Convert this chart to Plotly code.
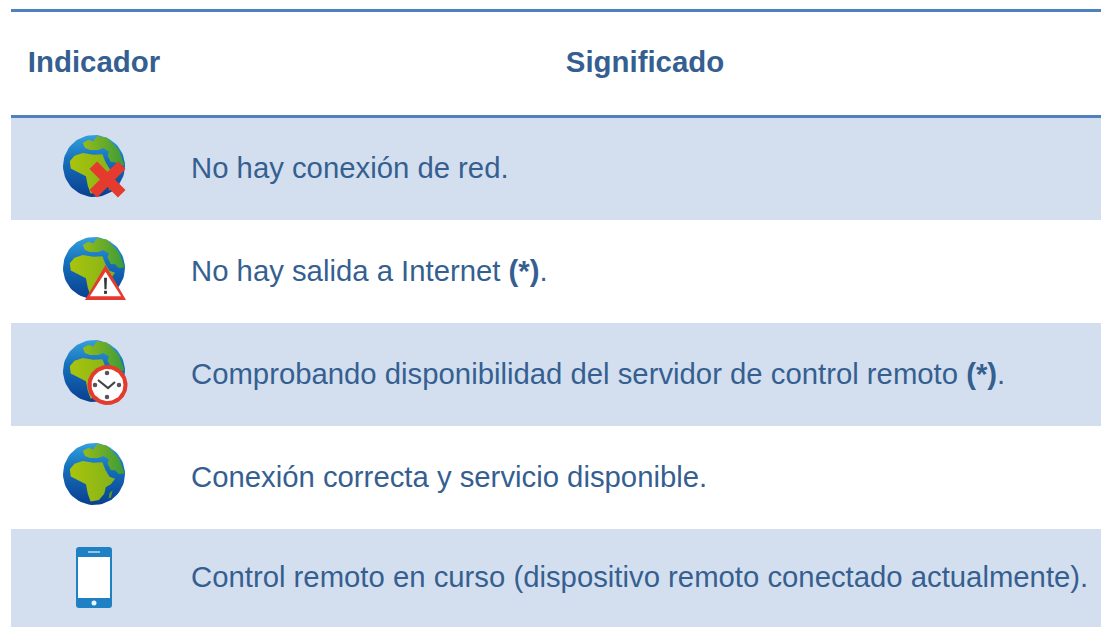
import math
import plotly.graph_objects as go

W, H = 1101, 627
header_labels = ["Indicador", "Significado"]
row_tops = [118, 220, 323, 426, 529]
row_bottoms = [220, 323, 426, 529, 627]
row_fill = ["#D3DFEE", "#FFFFFF", "#D3DFEE", "#FFFFFF", "#D3DFEE"]
row_text = [
    "No hay conexión de red.",
    "No hay salida a Internet <b>(*)</b>.",
    "Comprobando disponibilidad del servidor de control remoto <b>(*)</b>.",
    "Conexión correcta y servicio disponible.",
    "Control remoto en curso (dispositivo remoto conectado actualmente).",
]
icon_kind = ["x", "warn", "clock", "none", "phone"]
globe_cy = [166, 268, 371, 474]
INK = "#365F91"
RULE = "#4F81BD"

fig = go.Figure()
shapes = []
for t, b, c in zip(row_tops, row_bottoms, row_fill):
    shapes.append(dict(type="rect", x0=11, x1=W, y0=t, y1=b, fillcolor=c, line_width=0, layer="below"))
for y in (10.5, 116.5):
    shapes.append(dict(type="line", x0=11, x1=W, y0=y, y1=y, line=dict(color=RULE, width=3)))

AFRICA = [(-.78,-.15),(-.63,-.33),(-.36,-.42),(-.02,-.36),(.27,-.38),(.37,-.13),(.5,.09),(.68,.15),(.55,.32),(.38,.43),(.33,.64),(.16,.84),(-.11,.89),(-.2,.64),(-.26,.33),(-.5,.22),(-.75,.08)]
EURASIA = [(-.36,-.74),(-.18,-.85),(-.02,-.79),(.09,-.96),(.41,-.92),(.8,-.52),(.99,-.02),(.8,0),(.68,-.12),(.54,-.13),(.44,-.34),(.48,-.47),(.3,-.58),(.14,-.52),(-.13,-.52),(-.29,-.58)]
MADAGASCAR = [(.5,.62),(.6,.52),(.55,.75),(.47,.8)]


def poly(points, cx, cy, r, **kw):
    xs = [cx + r * p[0] for p in points] + [cx + r * points[0][0]]
    ys = [cy + r * p[1] for p in points] + [cy + r * points[0][1]]
    fig.add_trace(go.Scatter(x=xs, y=ys, mode="lines", fill="toself", line=dict(width=0), hoverinfo="skip", showlegend=False, **kw))


def circle_pts(n=72):
    return [(math.cos(2 * math.pi * i / n), math.sin(2 * math.pi * i / n)) for i in range(n)]


def globe(cx, cy, r=31):
    poly(circle_pts(), cx, cy, r, fillgradient=dict(type="vertical", colorscale=[[0, "#0A3F90"], [.6, "#1570BC"], [1, "#35A0DC"]]))
    poly(EURASIA, cx, cy, r, fillgradient=dict(type="horizontal", colorscale=[[0, "#96BC18"], [1, "#3A9A3A"]]))
    poly(AFRICA, cx, cy, r, fillgradient=dict(type="horizontal", colorscale=[[0, "#AAC40C"], [1, "#82B21A"]]))
    poly(MADAGASCAR, cx, cy, r, fillcolor="#4F9E2C")


for k, cy in zip(icon_kind, globe_cy):
    globe(94, cy)
    if k == "x":
        for pts in ([(-1, -.58), (-.58, -1), (1, .58), (.58, 1)], [(1, -.58), (.58, -1), (-1, .58), (-.58, 1)]):
            poly(pts, 107.5, cy + 13.5, 18, fillcolor="#E53A2E")
    if k == "warn":
        poly([(0, -.93), (1, .78), (-1, .78)], 105.5, cy + 16, 20.5, fillcolor="#E53A2E")
        poly([(0, -.6), (.76, .6), (-.76, .6)], 105.5, cy + 16, 20.5, fillcolor="#FFFFFF")
        poly([(-.07, -.3), (.07, -.3), (.05, .25), (-.05, .25)], 105.5, cy + 16, 20.5, fillcolor="#333333")
        poly([(-.07, .33), (.07, .33), (.07, .48), (-.07, .48)], 105.5, cy + 16, 20.5, fillcolor="#333333")
    if k == "clock":
        poly(circle_pts(), 107.5, cy + 14, 20, fillcolor="#E53A2E")
        poly(circle_pts(), 107.5, cy + 14, 16, fillcolor="#FFFFFF")
        fig.add_trace(go.Scatter(x=[98, 108, 115], y=[cy + 9, cy + 17, cy + 11], mode="lines", line=dict(color="#444444", width=2.2), hoverinfo="skip", showlegend=False))
        fig.add_trace(go.Scatter(x=[107, 107, 95, 119], y=[cy + 2, cy + 26, cy + 14, cy + 14], mode="markers", marker=dict(color="#555555", size=4.5), hoverinfo="skip", showlegend=False))

# phone icon
shapes.append(dict(type="path", path="M 79 547 L 109 547 Q 112 547 112 550 L 112 605 Q 112 608 109 608 L 79 608 Q 76 608 76 605 L 76 550 Q 76 547 79 547 Z", fillcolor="#2080C4", line_width=0))
shapes.append(dict(type="rect", x0=78, x1=110, y0=557, y1=598, fillcolor="#FFFFFF", line_width=0))
shapes.append(dict(type="line", x0=88, x1=100, y0=552, y1=552, line=dict(color="#BBDDF2", width=1.5)))
shapes.append(dict(type="circle", x0=91.5, x1=96.5, y0=600.5, y1=605.5, fillcolor="#EAF4FB", line_width=0))

fig.add_trace(go.Scatter(x=[94, 645], y=[65, 65], mode="text", text=[f"<b>{s}</b>" for s in header_labels],
                         textposition="middle center", textfont=dict(family="Liberation Sans", size=29.4, color=INK),
                         hoverinfo="skip", showlegend=False))
fig.add_trace(go.Scatter(x=[191] * 5, y=[(t + b) / 2 + 2 for t, b in zip(row_tops, row_bottoms)], mode="text", text=row_text,
                         textposition="middle right", textfont=dict(family="Liberation Sans", size=29.3, color=INK),
                         hoverinfo="skip", showlegend=False))

fig.update_layout(width=W, height=H, autosize=False, margin=dict(l=0, r=0, t=0, b=0), paper_bgcolor="white", plot_bgcolor="white", shapes=shapes,
                  xaxis=dict(range=[0, W], visible=False, fixedrange=True),
                  yaxis=dict(range=[H, 0], visible=False, fixedrange=True))
fig.write_html("out.html", config={"displayModeBar": False},
               post_script="document.body.style.margin='0';document.body.style.overflow='hidden';")
